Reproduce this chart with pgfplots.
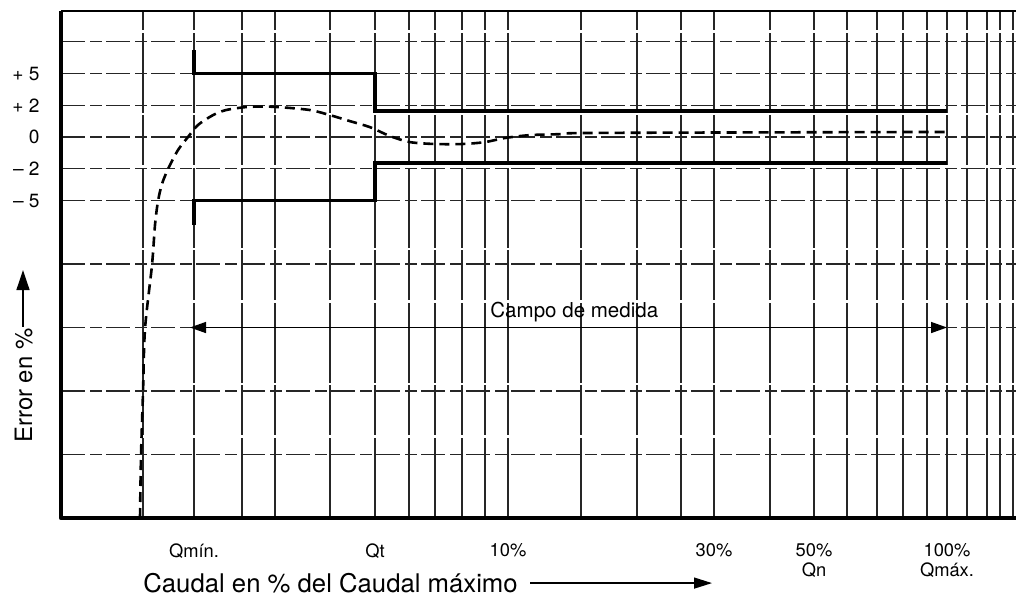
\documentclass[border=0pt]{standalone}
\usepackage{pgfplots}
\pgfplotsset{compat=1.18}
\usetikzlibrary{arrows.meta}
\usepackage{fontspec}
\setmainfont{TeX Gyre Heros}

\begin{document}
\begin{tikzpicture}
\begin{axis}[
  at={(0,0)}, anchor=south west,
  scale only axis,
  width=477.5bp, height=253.5bp,
  xmin=61, xmax=1016,
  ymin=-12, ymax=3.97,
  axis line style={draw=none},
  clip=false,
  tick style={draw=none},
  xtick={194,375,508,714,814,947},
  xticklabels={Qmín., Qt, 10\%, 30\%, {50\%\\Qn}, {100\%\\Qmáx.}},
  minor xtick={143,242,275,330,409,435,462,485,581,637,681,770,847,877,903,927,967,987,1000,1013},
  ytick={2,1,0,-1,-2},
  yticklabels={+ 5, + 2, 0, – 2, – 5},
  minor ytick={3,-4,-6,-8,-10},
  grid=both,
  major x grid style={black!85, line width=0.55bp, dash pattern=on 40bp off 1.5bp on 25bp off 1bp},
  minor x grid style={black!85, line width=0.55bp, dash pattern=on 40bp off 1.5bp on 25bp off 1bp},
  major y grid style={black!85, line width=0.55bp, dash pattern=on 12bp off 2.5bp on 6bp off 2bp},
  minor y grid style={black!85, line width=0.55bp, dash pattern=on 12bp off 2.5bp on 6bp off 2bp},
  xticklabel style={anchor=north, align=center, inner sep=0pt, yshift=-12.5bp,
                    font=\fontsize{9.2}{10}\selectfont},
  yticklabel style={anchor=east, inner sep=0pt, xshift=-10.5bp,
                    font=\fontsize{9.6}{11}\selectfont},
]
% tolerance limits
\addplot[black, line width=1.9bp, sharp plot, mark=none]
  coordinates {(194,2.74) (194,2) (375,2) (375,0.81) (947,0.81)};
\addplot[black, line width=1.9bp, sharp plot, mark=none]
  coordinates {(194,-2.77) (194,-2) (375,-2) (375,-0.81) (947,-0.81)};
% error curve of the meter
\addplot[black, line width=1.3bp, dash pattern=on 5bp off 3bp, smooth, tension=0.5, mark=none]
  coordinates {
  (140,-12.0) (141,-10.05) (143,-8.06) (145,-6.05) (152,-4.03) (155,-2.77)
  (158,-2.02) (162,-1.48) (168,-1.01) (178,-0.41) (188,0.0) (198,0.38)
  (213,0.69) (226,0.85) (245,0.94) (262,0.96) (280,0.94) (310,0.85)
  (330,0.69) (350,0.50) (370,0.31) (390,0.03) (410,-0.16) (435,-0.22)
  (462,-0.22) (485,-0.16) (505,-0.03) (530,0.06) (560,0.09) (600,0.13)
  (947,0.16)};
% frame
\draw[line width=2.2bp, line join=round] (rel axis cs:0,1) -- (rel axis cs:0,0) -- (rel axis cs:1,0);
\draw[line width=0.8bp] (rel axis cs:0,1) -- (rel axis cs:1,1);
% measuring range
\draw[line width=0.7bp, {Triangle[length=8bp,width=5.5bp]}-{Triangle[length=8bp,width=5.5bp]}]
  (axis cs:190,-6) -- (axis cs:947,-6);
\node[anchor=base west, inner sep=0pt, font=\fontsize{10.3}{12}\selectfont]
  at (axis cs:490,-5.70) {Campo de medida};
% axis titles
\node[anchor=base west, inner sep=0pt, font=\fontsize{12.9}{15}\selectfont]
  at (axis cs:143,-14.36) {Caudal en \% del Caudal máximo};
\draw[line width=0.7bp, -{Triangle[length=9bp,width=5.5bp]}]
  (axis cs:530,-14.05) -- (axis cs:712,-14.05);
\node[rotate=90, anchor=base west, inner sep=0pt, font=\fontsize{12}{14}\selectfont]
  at (axis cs:32,-9.64) {Error en \%};
\draw[line width=0.7bp, -{Triangle[length=10bp,width=6.5bp]}]
  (axis cs:23,-5.98) -- (axis cs:23,-4.19);
\end{axis}
\pgfresetboundingbox
\path (-30.5bp,-39bp) rectangle (477.5bp,259bp);
\end{tikzpicture}
\end{document}
